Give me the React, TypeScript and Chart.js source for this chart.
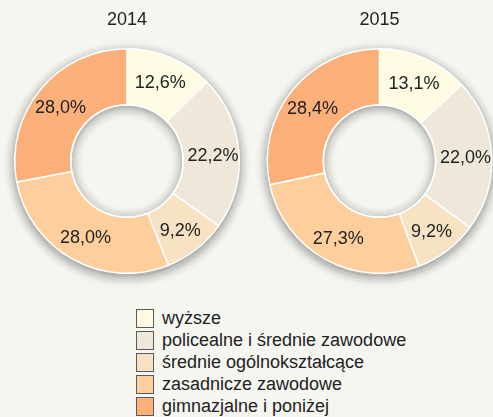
import React, { useEffect, useRef } from "react";
import { Chart, registerables } from "chart.js";

Chart.register(...registerables);

const categories = [
  "wyższe",
  "policealne i średnie zawodowe",
  "średnie ogólnokształcące",
  "zasadnicze zawodowe",
  "gimnazjalne i poniżej",
];
const values2014 = [12.6, 22.2, 9.2, 28.0, 28.0];
const values2015 = [13.1, 22.0, 9.2, 27.3, 28.4];
const colors = ["#fffbe3", "#efe8da", "#f7e2c3", "#fecf9d", "#fbb079"];
const BG = "#f6f6f1";
const FONT = "'Liberation Sans', Arial, sans-serif";

const fmt = (v: number) => v.toFixed(1).replace(".", ",") + "%";

const SHADOW_STEPS = 16;

const decorPlugin = {
  id: "decor",
  beforeDatasetsDraw(chart: any) {
    const meta = chart.getDatasetMeta(0);
    const first = meta.data[0];
    if (!first) return;
    const ctx = chart.ctx;
    const x = first.x as number;
    const y = first.y as number;
    const outerRadius = first.outerRadius as number;
    // outer drop shadow built from faint concentric rings
    ctx.save();
    ctx.lineWidth = 1.2;
    for (let k = 0; k <= SHADOW_STEPS; k++) {
      const t = 1 - k / SHADOW_STEPS;
      ctx.strokeStyle = `rgba(0,0,0,${(0.3 * t * t).toFixed(3)})`;
      ctx.beginPath();
      ctx.arc(x, y + 3, outerRadius - 2 + k, 0, Math.PI * 2);
      ctx.stroke();
    }
    ctx.fillStyle = "#ffffff";
    ctx.beginPath();
    ctx.arc(x, y, outerRadius - 1, 0, Math.PI * 2);
    ctx.fill();
    ctx.restore();
  },
  afterDatasetsDraw(chart: any) {
    const meta = chart.getDatasetMeta(0);
    const ctx = chart.ctx;
    const first = meta.data[0];
    if (!first) return;
    const x = first.x as number;
    const y = first.y as number;
    const innerRadius = first.innerRadius as number;

    // inset shadow in the hole
    ctx.save();
    ctx.beginPath();
    ctx.arc(x, y, innerRadius - 0.7, 0, Math.PI * 2);
    ctx.clip();
    ctx.fillStyle = BG;
    ctx.fillRect(x - innerRadius - 2, y - innerRadius - 2, innerRadius * 2 + 4, innerRadius * 2 + 4);
    ctx.lineWidth = 1.2;
    for (let k = 0; k <= SHADOW_STEPS; k++) {
      const t = 1 - k / SHADOW_STEPS;
      ctx.strokeStyle = `rgba(0,0,0,${(0.28 * t * t).toFixed(3)})`;
      ctx.beginPath();
      ctx.arc(x, y + 2, innerRadius + 2 - k, 0, Math.PI * 2);
      ctx.stroke();
    }
    ctx.restore();

    // white rim of hole
    ctx.save();
    ctx.strokeStyle = "#ffffff";
    ctx.lineWidth = 1.5;
    ctx.beginPath();
    ctx.arc(x, y, innerRadius, 0, Math.PI * 2);
    ctx.stroke();
    ctx.restore();

    // labels
    const data = chart.data.datasets[0].data as number[];
    ctx.save();
    ctx.font = `18px ${FONT}`;
    ctx.fillStyle = "#222222";
    ctx.textAlign = "center";
    ctx.textBaseline = "middle";
    meta.data.forEach((el: any, i: number) => {
      const mid = (el.startAngle + el.endAngle) / 2;
      const r = (el.innerRadius + el.outerRadius) / 2 + 2;
      ctx.fillText(fmt(data[i]), el.x + Math.cos(mid) * r, el.y + Math.sin(mid) * r + 2);
    });
    ctx.restore();
  },
};

function Donut(props: {
  title: string;
  values: number[];
  left: number;
  width: number;
  padLeft: number;
  padRight: number;
}) {
  const ref = useRef<HTMLCanvasElement>(null);
  useEffect(() => {
    if (!ref.current) return;
    const chart = new Chart(ref.current, {
      type: "doughnut",
      data: {
        labels: categories,
        datasets: [
          {
            data: props.values,
            backgroundColor: colors,
            borderColor: "#ffffff",
            borderWidth: 1.5,
          },
        ],
      },
      options: {
        animation: false,
        responsive: false,
        cutout: "50%",
        layout: {
          padding: { left: props.padLeft, right: props.padRight, top: 0, bottom: 16 },
        },
        plugins: {
          legend: { display: false },
          tooltip: { enabled: false },
          title: {
            display: true,
            text: props.title,
            color: "#222222",
            font: { family: FONT, size: 18, weight: "normal", lineHeight: 1.2 },
            padding: { top: 9, bottom: 17.4 },
          },
        },
      },
      plugins: [decorPlugin],
    } as any);
    return () => chart.destroy();
  }, []);
  return (
    <canvas
      ref={ref}
      width={props.width}
      height={290}
      style={{ position: "absolute", left: props.left, top: 0, width: props.width, height: 290 }}
    />
  );
}

export default function App() {
  useEffect(() => {
    document.body.style.margin = "0";
    document.body.style.background = BG;
  }, []);
  return (
    <div
      style={{
        position: "relative",
        width: 493,
        height: 417,
        background: BG,
        overflow: "hidden",
        fontFamily: FONT,
      }}
    >
      <Donut title="2014" values={values2014} left={0} width={254} padLeft={14} padRight={14} />
      <Donut title="2015" values={values2015} left={254} width={239} padLeft={12.5} padRight={0.5} />
      <div style={{ position: "absolute", left: 136, top: 307 }}>
        {categories.map((c, i) => (
          <div
            key={c}
            style={{ display: "flex", alignItems: "center", height: 22, whiteSpace: "nowrap" }}
          >
            <div
              style={{
                width: 18,
                height: 19,
                boxSizing: "border-box",
                border: "1px solid #5a5a5a",
                background: colors[i],
                marginRight: 8,
              }}
            />
            <span style={{ fontSize: 18, color: "#222222", lineHeight: "22px" }}>{c}</span>
          </div>
        ))}
      </div>
    </div>
  );
}
